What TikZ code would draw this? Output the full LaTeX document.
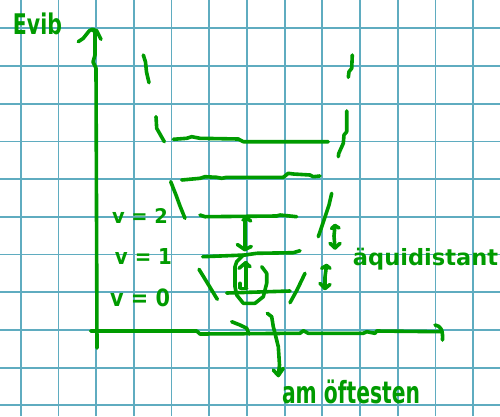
\documentclass[tikz,border=0pt]{standalone}
\usepackage{fontspec}
\setmainfont{DejaVu Sans}
\usetikzlibrary{arrows.meta}
\definecolor{gridc}{RGB}{95,172,192}
\definecolor{ink}{RGB}{0,155,0}
\begin{document}
\begin{tikzpicture}[x=1pt,y=-1pt,
  pen/.style={draw=ink,line width=3.6pt,line cap=round,line join=round},
  gridline/.style={draw=gridc,line width=1.8pt},
  lbl/.style={text=ink,inner sep=0pt,font=\bfseries}]
\useasboundingbox (0,0) rectangle (500,416);
\fill[white] (0,0) rectangle (500,416);
% grid paper
\foreach \k in {0,...,12} \draw[gridline] ({20.7+37.7*\k},0) -- ({20.7+37.7*\k},416);
\foreach \k in {0,...,10} \draw[gridline] (0,{28.3+37.7*\k}) -- (500,{28.3+37.7*\k});

% labels
\node[lbl] (evib) at (37.5,24) {\resizebox*{49pt}{22pt}{Evib}};
\node[lbl] (v2) at (140,215.5) {\resizebox*{56pt}{15pt}{v = 2}};
\node[lbl] (v1) at (143.5,256) {\resizebox*{57pt}{16pt}{v = 1}};
\node[lbl] (v0) at (140,297.5) {\resizebox*{60pt}{18pt}{v = 0}};
\node[lbl] (aequi) at (425.5,259) {\resizebox*{145pt}{22pt}{äquidistant}};
\node[lbl] (oft) at (351,391.5) {\resizebox*{138pt}{24pt}{am öftesten}};

% axes
\coordinate (ybot) at (97,348);
\coordinate (ytop) at (92.3,29.3);
\coordinate (xl) at (90.7,331);
\coordinate (xr) at (441.7,331.7);
\draw[pen] (ybot) -- (96,68) -- (93,62) -- (95,55) -- (95,32) -- (ytop);
\draw[pen] (78.3,41.7) -- (83.3,38.3) -- (89.3,30.7) -- (ytop) -- (96.7,30.7) -- (101,39.3);
\draw[pen] (xl) -- (196.7,331) -- (200,334) -- (300,333.3) -- (303.3,330.7) -- (308.3,333.3)
  -- (363.3,333.3) -- (366.7,331.7) -- (375,333.3) -- (376.7,331) -- (xr);
\draw[pen] (435,325) .. controls (441,326) and (443,330) .. (442.5,340);

% energy levels
\coordinate (la1) at (173.3,139.3); \coordinate (la2) at (328.3,141.7);
\coordinate (lb1) at (181.7,180); \coordinate (lb2) at (320,176);
\coordinate (l21) at (200,215); \coordinate (l22) at (296.7,216.7);
\coordinate (l11) at (202.7,256.7); \coordinate (l12) at (300,250.7);
\coordinate (l01) at (226.7,293); \coordinate (l02) at (290,291);
\draw[pen] (la1) -- (186.7,138.3) -- (191.7,136.7) -- (200,138.3) -- (238.3,139) -- (243.3,141.7) -- (la2);
\draw[pen] (lb1) -- (200,178.3) -- (205,176.7) -- (216.7,177.3) -- (221.7,178.3) -- (226.7,177.3)
  -- (283.3,177.3) -- (288.3,173.3) -- (293.3,174) -- (310,175) -- (313.3,176.7) -- (lb2);
\draw[pen] (l21) -- (205,216.7) -- (276.7,216) -- (280,215) -- (l22);
\draw[pen] (l11) -- (245,255) -- (256.7,253.3) -- (293.3,252.7) -- (l12);
\draw[pen] (l01) -- (l02);

% potential walls, left
\draw[pen] (143.3,55) -- (145.5,62) -- (146.5,72) -- (149,82.7);
\draw[pen] (156,116.7) -- (156.7,128.3) -- (164.3,141.7);
\draw[pen] (170.7,181.7) -- (176,195) -- (180,206) -- (185,218.3);
\draw[pen] (199,269.3) -- (208,284) -- (217.3,299.3);
\draw[pen] (231.7,321.7) -- (240,325) -- (246.7,328.3) -- (249,334);
% potential walls, right
\draw[pen] (352.3,55) -- (351.7,68.3) -- (349,71.7) -- (348.3,77.3);
\draw[pen] (346.7,111) -- (346.7,131.7) -- (344,135) -- (343.3,143.3) -- (338.8,153.3) -- (338.3,156.7);
\draw[pen] (331.7,193.3) -- (329,205) -- (324,220) -- (318.3,236.7);
\draw[pen] (305,273.3) -- (297,290) -- (290,302.7);

% transition arrows
\coordinate (a1t) at (244.7,220); \coordinate (a1b) at (244.7,249.5);
\draw[pen] (243,220) -- (248,219) -- (250.7,221);
\draw[pen] (a1t) -- (a1b);
\draw[pen] (237.3,244.5) -- (a1b) -- (251.3,246.5);
\coordinate (a2b) at (245.7,287); \coordinate (a2t) at (245.7,262.7);
\draw[pen] (a2b) -- (a2t);
\draw[pen] (239,268.3) -- (a2t) -- (250,266.7);
\draw[pen] (240,283.3) -- (240,288.3) -- (246.7,288.3);
% oval
\draw[pen] (243.3,255) -- (236.7,261.7) -- (235,266.7) -- (235,286.7) -- (236.7,295) -- (243.3,303.3)
  -- (255,303.3) -- (263.3,296.7) -- (266.7,283.3) -- (266.7,273.3) -- (261.7,266.7);

% equidistance arrows
\coordinate (e1t) at (335,225.5); \coordinate (e1b) at (335,248);
\draw[pen] (e1t) -- (334,236) -- (335,248);
\draw[pen] (331.5,228.5) -- (e1t) -- (339,228);
\draw[pen] (330,243.3) -- (e1b) -- (340,243.3);
\coordinate (e2t) at (326.5,265.5); \coordinate (e2b) at (325,288.5);
\draw[pen] (e2t) -- (325,277) -- (e2b);
\draw[pen] (321.7,268.3) -- (e2t) -- (330,268.3);
\draw[pen] (320,283.3) -- (e2b) -- (330,284.5);

% "am oeftesten" arrow
\coordinate (ost) at (267.3,313.3); \coordinate (ose) at (278.3,375.5);
\draw[pen] (ost) -- (271.7,316.7) -- (273.3,326.7) -- (275,333.3) -- (278.3,346.7) -- (279.5,365) -- (ose);
\draw[pen] (273.3,370) -- (ose) -- (283.3,368.3);
\end{tikzpicture}
\end{document}
